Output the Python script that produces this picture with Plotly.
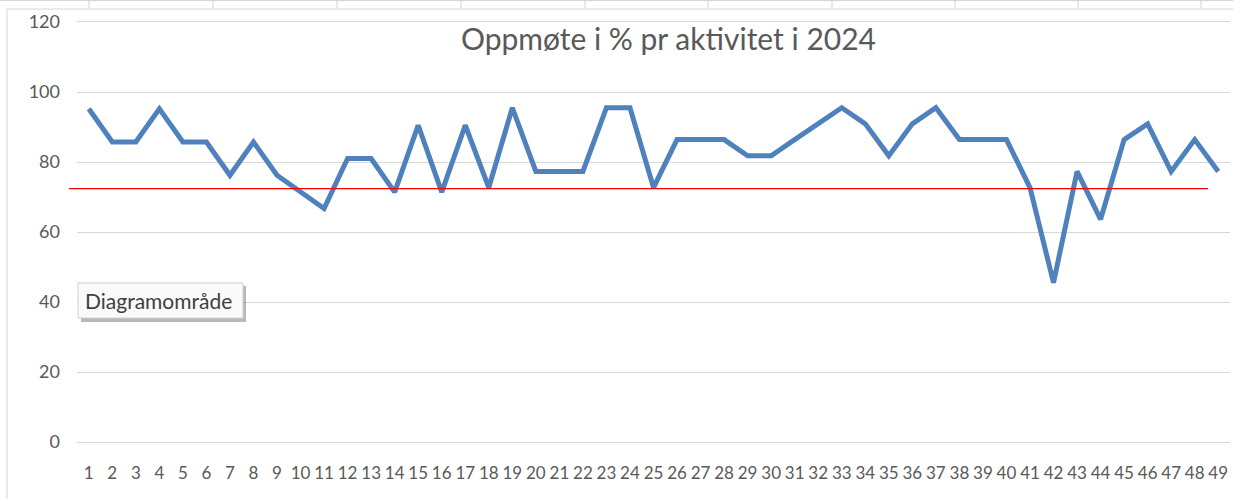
import plotly.graph_objects as go

aktiviteter = [str(i) for i in range(1, 50)]
oppmote = [95.2, 85.7, 85.7, 95.2, 85.7, 85.7, 76.2, 85.7, 76.2, 71.4,
           66.7, 81.0, 81.0, 71.4, 90.5, 71.4, 90.5, 72.7, 95.5, 77.3,
           77.3, 77.3, 95.5, 95.5, 72.7, 86.4, 86.4, 86.4, 81.8, 81.8,
           86.4, 90.9, 95.5, 90.9, 81.8, 90.9, 95.5, 86.4, 86.4, 86.4,
           72.7, 45.5, 77.3, 63.6, 86.4, 90.9, 77.3, 86.4, 77.3]
snitt = 72.4
y_ticks = [0, 20, 40, 60, 80, 100, 120]
tittel = "Oppmøte i % pr aktivitet i 2024"

FONT = "Lato"
GRAY = "#595959"

fig = go.Figure()
fig.add_trace(go.Scatter(
    x=aktiviteter, y=oppmote, mode="lines",
    line=dict(color="#4f81bd", width=5, shape="linear"),
    showlegend=False, hoverinfo="skip",
))

W, H = 1233, 499
L, R, T, B = 77, 3, 22, 57
pw, ph = W - L - R, H - T - B

def px(xp):
    return (xp - L) / pw

def py(yp):
    return (H - B - yp) / ph

shapes = []
# average line (red)
shapes.append(dict(type="line", xref="paper", yref="y", x0=px(69), x1=px(1208),
                   y0=snitt, y1=snitt, line=dict(color="#ff0000", width=1.3)))
# chart border / spreadsheet strip
shapes.append(dict(type="line", xref="paper", yref="paper", x0=px(7), x1=px(7),
                   y0=py(499), y1=py(9), line=dict(color="#d4d4d4", width=1)))
shapes.append(dict(type="line", xref="paper", yref="paper", x0=px(7), x1=px(1233),
                   y0=py(9), y1=py(9), line=dict(color="#d4d4d4", width=1)))
shapes.append(dict(type="line", xref="paper", yref="paper", x0=px(0), x1=px(1233),
                   y0=py(0.5), y1=py(0.5), line=dict(color="#d4d4d4", width=1)))
for cx in [89, 213, 337, 461, 585, 708, 832, 955, 1078, 1201]:
    shapes.append(dict(type="line", xref="paper", yref="paper", x0=px(cx), x1=px(cx),
                       y0=py(0), y1=py(8), line=dict(color="#d4d4d4", width=1)))
# tooltip shadow + box
shapes.append(dict(type="rect", xref="paper", yref="paper", x0=px(81), x1=px(246),
                   y0=py(322), y1=py(286), line=dict(width=0), fillcolor="rgba(0,0,0,0.28)"))
shapes.append(dict(type="rect", xref="paper", yref="paper", x0=px(78), x1=px(243),
                   y0=py(318), y1=py(283), line=dict(color="#cfcfcf", width=1),
                   fillcolor="#fafafa"))

fig.update_layout(
    width=W, height=H,
    margin=dict(l=L, r=R, t=T, b=B),
    paper_bgcolor="white", plot_bgcolor="white",
    font=dict(family=FONT, color=GRAY),
    shapes=shapes,
    annotations=[
        dict(text=tittel, xref="paper", yref="paper", x=px(668), y=py(38),
             xanchor="center", yanchor="middle", showarrow=False,
             font=dict(family=FONT, size=30, color=GRAY)),
        dict(text="Diagramområde", xref="paper", yref="paper", x=px(158), y=py(300),
             xanchor="center", yanchor="middle", showarrow=False,
             font=dict(family=FONT, size=21, color="#404040")),
    ],
    xaxis=dict(
        type="category", range=[-0.5, 48.5],
        showgrid=False, zeroline=False,
        showline=True, linecolor="#d9d9d9", linewidth=1, mirror=True,
        ticks="", tickfont=dict(size=17, color=GRAY),
        ticklabelstandoff=16, tickangle=0,
    ),
    yaxis=dict(
        range=[0, 120], tickvals=y_ticks,
        showgrid=True, gridcolor="#d9d9d9", gridwidth=1,
        zeroline=False, showline=False, ticks="",
        tickfont=dict(size=18, color=GRAY), ticklabelstandoff=16,
    ),
)

fig.write_html("out.html", config={"displayModeBar": False},
               post_script="document.body.style.margin='0';document.body.style.overflow='hidden';")
